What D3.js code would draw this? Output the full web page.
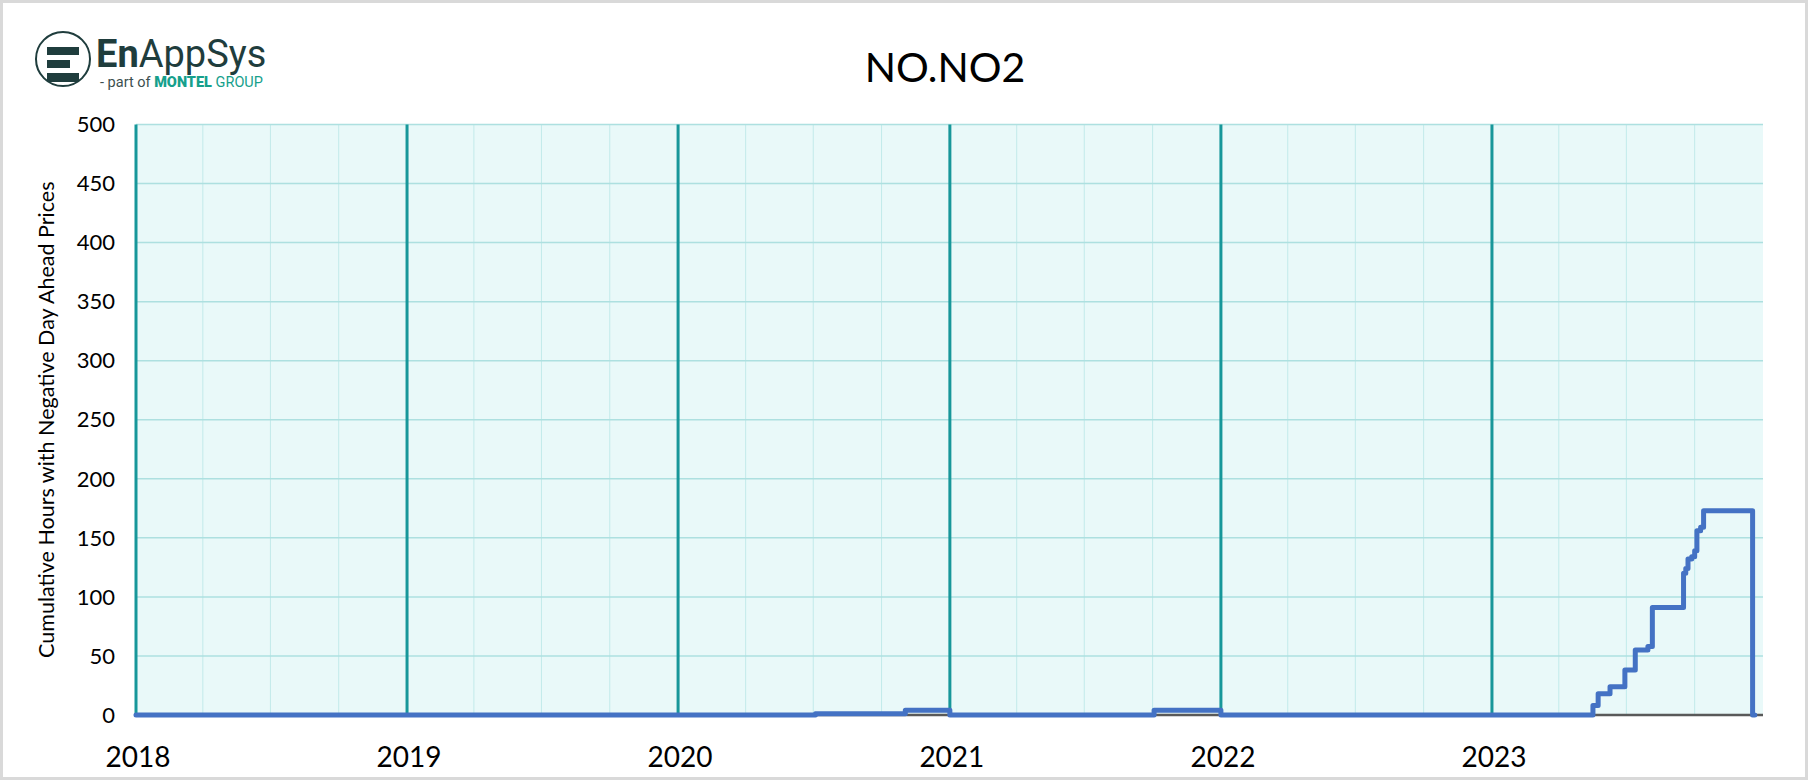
<!DOCTYPE html>
<html>
<head>
<meta charset="utf-8">
<script src="https://cdn.jsdelivr.net/npm/d3@7"></script>
<style>
    body { margin: 0; background: #ffffff; }
    svg { display: block; font-family: Lato, "Open Sans", sans-serif; }
</style>
</head>
<body>
<svg id="drawing_region"></svg>
<script>
// cumulative negative-price hours, reset every 1 January (step series)
const stepDates = [
    "2018-01-01", "2020-07-04", "2020-11-02", "2021-01-01", "2021-10-03", "2022-01-01",
    "2023-05-17", "2023-05-24", "2023-06-09", "2023-06-29", "2023-07-13", "2023-07-30",
    "2023-08-05", "2023-09-16", "2023-09-19", "2023-09-22", "2023-09-27", "2023-10-01",
    "2023-10-04", "2023-10-09", "2023-10-13", "2023-12-18", "2023-12-21"
];
const stepValues = [
    0, 1, 4, 0, 4, 0,
    8, 18, 24, 38, 55, 58,
    91, 120, 124, 132, 134, 139,
    156, 159, 173, 0, 0
];
const yearLabels = ["2018", "2019", "2020", "2021", "2022", "2023"];
const yTicks = [0, 50, 100, 150, 200, 250, 300, 350, 400, 450, 500];
const chartTitle = "NO.NO2";
const yTitle = "Cumulative Hours with Negative Day Ahead Prices";

const config = {
    parent: '#drawing_region',
    width: 1808,
    height: 780,
    margin: {top: 124.5, right: 45, bottom: 65, left: 136}
};

const parse = d3.timeParse("%Y-%m-%d");
const data = stepDates.map((d, i) => ({ date: parse(d), value: stepValues[i] }));

const svg = d3.select(config.parent)
    .attr('width', config.width)
    .attr('height', config.height);

const inner_width = config.width - config.margin.left - config.margin.right;
const inner_height = config.height - config.margin.top - config.margin.bottom;

// frame
svg.append('rect')
    .attr('x', 1.5).attr('y', 1.5)
    .attr('width', config.width - 3).attr('height', config.height - 3)
    .attr('fill', '#ffffff')
    .attr('stroke', '#d9d9d9')
    .attr('stroke-width', 3);

const chart = svg.append('g')
    .attr('transform', `translate(${config.margin.left}, ${config.margin.top})`);

const xscale = d3.scaleTime()
    .domain([parse("2018-01-01"), parse("2024-01-01")])
    .range([0, inner_width]);

const yscale = d3.scaleLinear()
    .domain([0, 500])
    .range([inner_height, 0]);

chart.append('rect')
    .attr('width', inner_width)
    .attr('height', inner_height)
    .attr('fill', '#e9f9f9');

// quarterly minor lines
const quarters = d3.timeMonth.every(3).range(xscale.domain()[0], xscale.domain()[1]);
chart.append('g').selectAll('line')
    .data(quarters.filter(d => d.getMonth() !== 0))
    .join('line')
    .attr('x1', d => xscale(d)).attr('x2', d => xscale(d))
    .attr('y1', 0).attr('y2', inner_height)
    .attr('stroke', '#c2eaea')
    .attr('stroke-width', 1);

// horizontal grid
chart.append('g').selectAll('line')
    .data(yTicks.filter(d => d > 0))
    .join('line')
    .attr('x1', 0).attr('x2', inner_width)
    .attr('y1', d => yscale(d)).attr('y2', d => yscale(d))
    .attr('stroke', '#ade0e0')
    .attr('stroke-width', 1.5);

// year lines
const years = yearLabels.map(y => parse(y + "-01-01"));
chart.append('g').selectAll('line')
    .data(years)
    .join('line')
    .attr('x1', d => xscale(d)).attr('x2', d => xscale(d))
    .attr('y1', 0).attr('y2', inner_height)
    .attr('stroke', '#17979a')
    .attr('stroke-width', 3);

// baseline
chart.append('line')
    .attr('x1', 0).attr('x2', inner_width)
    .attr('y1', inner_height).attr('y2', inner_height)
    .attr('stroke', '#595959')
    .attr('stroke-width', 2.5);

// series
const line = d3.line()
    .x(d => xscale(d.date))
    .y(d => yscale(d.value))
    .curve(d3.curveStepAfter);

chart.append('path')
    .datum(data)
    .attr('d', line)
    .attr('fill', 'none')
    .attr('stroke', '#4472c4')
    .attr('stroke-width', 5)
    .attr('stroke-linejoin', 'round')
    .attr('stroke-linecap', 'round');

// y tick labels
chart.append('g').selectAll('text')
    .data(yTicks)
    .join('text')
    .attr('x', -21)
    .attr('y', d => yscale(d))
    .attr('dy', '0.35em')
    .attr('text-anchor', 'end')
    .attr('font-size', '22px')
    .attr('fill', '#000')
    .text(d => d);

// x labels
chart.append('g').selectAll('text')
    .data(years)
    .join('text')
    .attr('x', d => xscale(d) + 2)
    .attr('y', inner_height + 52)
    .attr('text-anchor', 'middle')
    .attr('font-size', '28px')
    .attr('fill', '#000')
    .text((d, i) => yearLabels[i]);

// y title
svg.append('text')
    .attr('transform', `translate(46, ${config.margin.top + inner_height / 2}) rotate(-90)`)
    .attr('text-anchor', 'middle')
    .attr('dy', '0.35em')
    .attr('font-size', '21.5px')
    .attr('fill', '#000')
    .text(yTitle);

// title
svg.append('text')
    .attr('x', 945)
    .attr('y', 82)
    .attr('text-anchor', 'middle')
    .attr('font-size', '41px')
    .attr('fill', '#000')
    .text(chartTitle);

// logo
const logo = svg.append('g');
logo.append('circle')
    .attr('cx', 63).attr('cy', 59).attr('r', 27)
    .attr('fill', '#fff')
    .attr('stroke', '#1f3d3d')
    .attr('stroke-width', 2);
[[47, 47, 32, 8], [47, 60, 23, 8], [47, 73, 32, 9]].forEach(r => {
    logo.append('rect')
        .attr('x', r[0]).attr('y', r[1]).attr('width', r[2]).attr('height', r[3])
        .attr('fill', '#1f3d3d');
});
const brand = logo.append('text')
    .attr('x', 96).attr('y', 67)
    .attr('font-family', 'Roboto, sans-serif')
    .attr('font-size', '38px')
    .attr('fill', '#1f3d3d');
brand.append('tspan').attr('font-weight', 700).text('En');
brand.append('tspan').attr('font-weight', 400).text('AppSys');
const sub = logo.append('text')
    .attr('x', 100).attr('y', 87)
    .attr('font-family', 'Roboto, sans-serif')
    .attr('font-size', '14.5px');
sub.append('tspan').attr('fill', '#3c5050').text('- part of ');
sub.append('tspan').attr('fill', '#16a08c').attr('font-weight', 900).text('MONTEL');
sub.append('tspan').attr('fill', '#16a08c').attr('font-weight', 400).text(' GROUP');
</script>
</body>
</html>
